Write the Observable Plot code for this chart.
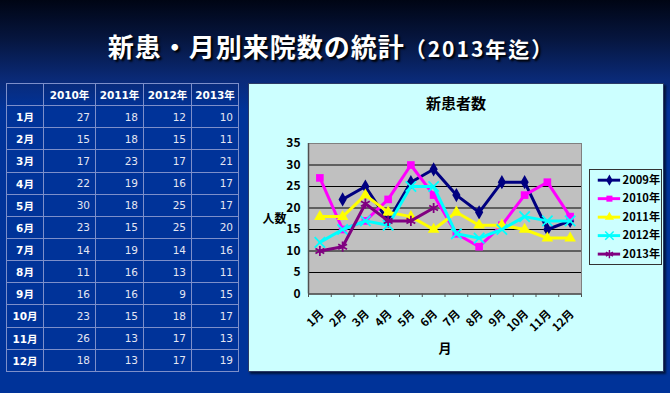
<!DOCTYPE html>
<html><head><meta charset="utf-8">
<script src="https://cdn.jsdelivr.net/npm/d3@7"></script>
<script src="https://cdn.jsdelivr.net/npm/@observablehq/plot@0.6"></script>
<style>
html,body{margin:0;padding:0;}
body{width:670px;height:393px;overflow:hidden;position:relative;
  background:linear-gradient(to bottom,#000514 0px,#061640 40px,#0a2a78 80px,#003399 110px,#003399 393px);
  font-family:"Noto Sans CJK JP",sans-serif;}
#title{position:absolute;left:0;width:662px;top:28px;text-align:center;color:#fff;font-weight:bold;
  font-size:26px;line-height:36px;letter-spacing:1px;text-shadow:2px 2px 2px #000;white-space:nowrap;}
#title .sub{font-size:21px;letter-spacing:2px;}
#tbl{position:absolute;left:6px;top:83px;border-collapse:collapse;table-layout:fixed;height:289px;width:232px;}
#tbl td,#tbl th{border:1px solid #7d8fca;padding:0;}
#tbl th{color:#fff;font-family:"DejaVu Sans","Noto Sans CJK JP",sans-serif;font-size:10.5px;font-weight:bold;text-align:center;}
#tbl td{color:#e4e6f2;font-family:"DejaVu Sans",sans-serif;font-size:10.5px;text-align:right;padding-right:5px;}
#box{position:absolute;left:248px;top:83px;width:416px;height:289px;background:#ccffff;
  box-sizing:border-box;border:1px solid #2b3b66;box-shadow:2px 2px 2px rgba(0,0,0,0.6);}
#box .inner{position:absolute;left:-1px;top:-1px;width:416px;height:289px;}
#ctitle{position:absolute;left:0;width:416px;top:9px;text-align:center;font-size:15px;font-weight:bold;color:#000;}
#legend{position:absolute;left:341px;top:86px;width:73px;height:96px;border:1px solid #333;background:#ccffff;box-sizing:border-box;}
#legend svg{position:absolute;left:-1px;top:-1px;}
</style></head>
<body>
<div id="title">新患・月別来院数の統計<span class="sub">（2013年迄）</span></div>
<table id="tbl"></table>
<div id="box"><div class="inner" id="inner"><div id="ctitle">新患者数</div><div id="legend"></div></div></div>
<script>
// ---- table data ----
const months = ["1月","2月","3月","4月","5月","6月","7月","8月","9月","10月","11月","12月"];
const tableYears = ["2010年","2011年","2012年","2013年"];
const table2010 = [27,15,17,22,30,23,14,11,16,23,26,18];
const table2011 = [18,18,23,19,18,15,19,16,16,15,13,13];
const table2012 = [12,15,17,16,25,25,14,13,9,18,17,17];
const table2013 = [10,11,21,17,17,20,16,11,15,17,13,19];

// ---- chart data ----
const seriesNames = ["2009年","2010年","2011年","2012年","2013年"];
const s2009 = [null,22,25,17,26,29,23,19,26,26,15,17];
const s2010 = [27,15,17,22,30,23,14,11,16,23,26,18];
const s2011 = [18,18,23,19,18,15,19,16,16,15,13,13];
const s2012 = [12,15,17,16,25,25,14,13,15,18,17,17];
const s2013 = [10,11,21,17,17,20];
const yTicks = [0,5,10,15,20,25,30,35];
const chartTitle = "新患者数";
const yLabel = "人数";
const xLabel = "月";

// styles
const seriesColors = ["#000080","#ff00ff","#ffff00","#00ffff","#800080"];
const seriesSymbols = ["diamond","square","triangle","times","asterisk"];
const seriesFilled = [true,true,true,false,false];

// build table
const tbl = document.getElementById("tbl");
const colW = [37,52,48,48,47];
const cg = document.createElement("colgroup");
colW.forEach(w => { const c = document.createElement("col"); c.style.width = w + "px"; cg.appendChild(c); });
tbl.appendChild(cg);
const hr = document.createElement("tr");
hr.innerHTML = "<th></th>" + tableYears.map(y => `<th>${y}</th>`).join("");
tbl.appendChild(hr);
const tcols = [table2010, table2011, table2012, table2013];
months.forEach((m, i) => {
  const tr = document.createElement("tr");
  tr.innerHTML = `<th>${m}</th>` + tcols.map(c => `<td>${c[i]}</td>`).join("");
  tbl.appendChild(tr);
});
document.getElementById("ctitle").textContent = chartTitle;

// chart rows
const seriesValues = [s2009, s2010, s2011, s2012, s2013];
const rows = [];
seriesNames.forEach((s, k) => seriesValues[k].forEach((v, i) => {
  if (v != null) rows.push({series: s, month: i + 1, value: v});
}));
const monthNums = months.map((m, i) => i + 1);
const boundaries = d3.range(0.5, months.length + 1, 1);

const seriesMarks = [];
seriesNames.forEach((s, k) => {
  const data = rows.filter(d => d.series === s);
  seriesMarks.push(Plot.line(data, {x: "month", y: "value", stroke: seriesColors[k], strokeWidth: 3}));
  seriesMarks.push(Plot.dot(data, seriesFilled[k]
    ? {x: "month", y: "value", symbol: seriesSymbols[k], fill: seriesColors[k], stroke: "none", r: 4.3}
    : {x: "month", y: "value", symbol: seriesSymbols[k], fill: "none", stroke: seriesColors[k], strokeWidth: 1.8, r: 4.8}));
});

const chart = Plot.plot({
  width: 416, height: 289,
  marginLeft: 60, marginRight: 83, marginTop: 60, marginBottom: 78.5,
  style: {background: "transparent", fontFamily: "'Noto Sans CJK JP', sans-serif", fontSize: "11px", fontWeight: "bold", color: "#000", overflow: "visible"},
  x: {domain: [0.5, months.length + 0.5]},
  y: {domain: [0, 35]},
  marks: [
    Plot.frame({fill: "#c0c0c0", stroke: "#808080"}),
    Plot.ruleY(yTicks.filter(t => t > 0 && t < 35), {stroke: "#000", strokeWidth: 1}),
    Plot.ruleX([0.5], {stroke: "#505050", strokeWidth: 1.5}),
    Plot.ruleY([0], {stroke: "#505050", strokeWidth: 1.5}),
    Plot.axisY({ticks: yTicks, tickSize: 0, tickPadding: 8, label: null, fontSize: 12}),
    Plot.axisX({ticks: boundaries, tickSize: 3.5, tickFormat: () => "", label: null, stroke: "#505050"}),
    Plot.axisX({ticks: monthNums, tickSize: 0, tickPadding: 14, tickRotate: -45, tickFormat: i => months[i - 1], label: null, fontSize: 11.5, dx: 2, dy: 4}),
    ...seriesMarks,
    Plot.text([yLabel], {frameAnchor: "left", dx: -34, text: d => d, fontSize: 12, textAnchor: "middle"}),
    Plot.text([xLabel], {frameAnchor: "bottom", dy: 59, text: d => d, fontSize: 13})
  ]
});
document.getElementById("inner").insertBefore(chart, document.getElementById("ctitle"));
chart.style.position = "absolute"; chart.style.left = "0"; chart.style.top = "0";

// legend
const lmarks = [];
seriesNames.forEach((s, k) => {
  lmarks.push(Plot.ruleY([s], {x1: 0, x2: 1, stroke: seriesColors[k], strokeWidth: 3}));
  lmarks.push(Plot.dot([s], seriesFilled[k]
    ? {x: 0.5, y: d => d, symbol: seriesSymbols[k], fill: seriesColors[k], stroke: "none", r: 3.5}
    : {x: 0.5, y: d => d, symbol: seriesSymbols[k], fill: "none", stroke: seriesColors[k], strokeWidth: 1.5, r: 4}));
});
lmarks.push(Plot.text(seriesNames, {x: 1, y: d => d, text: d => d, dx: 2, textAnchor: "start", fontSize: 11.5}));
const legend = Plot.plot({
  width: 73, height: 96, marginLeft: 9, marginRight: 41, marginTop: 10, marginBottom: 8,
  style: {background: "transparent", fontFamily: "'Noto Sans CJK JP', sans-serif", fontWeight: "bold", color: "#000", overflow: "visible"},
  x: {domain: [0, 1], axis: null},
  y: {type: "point", domain: seriesNames, padding: 0, axis: null},
  marks: lmarks
});
document.getElementById("legend").appendChild(legend);
</script>
</body></html>
